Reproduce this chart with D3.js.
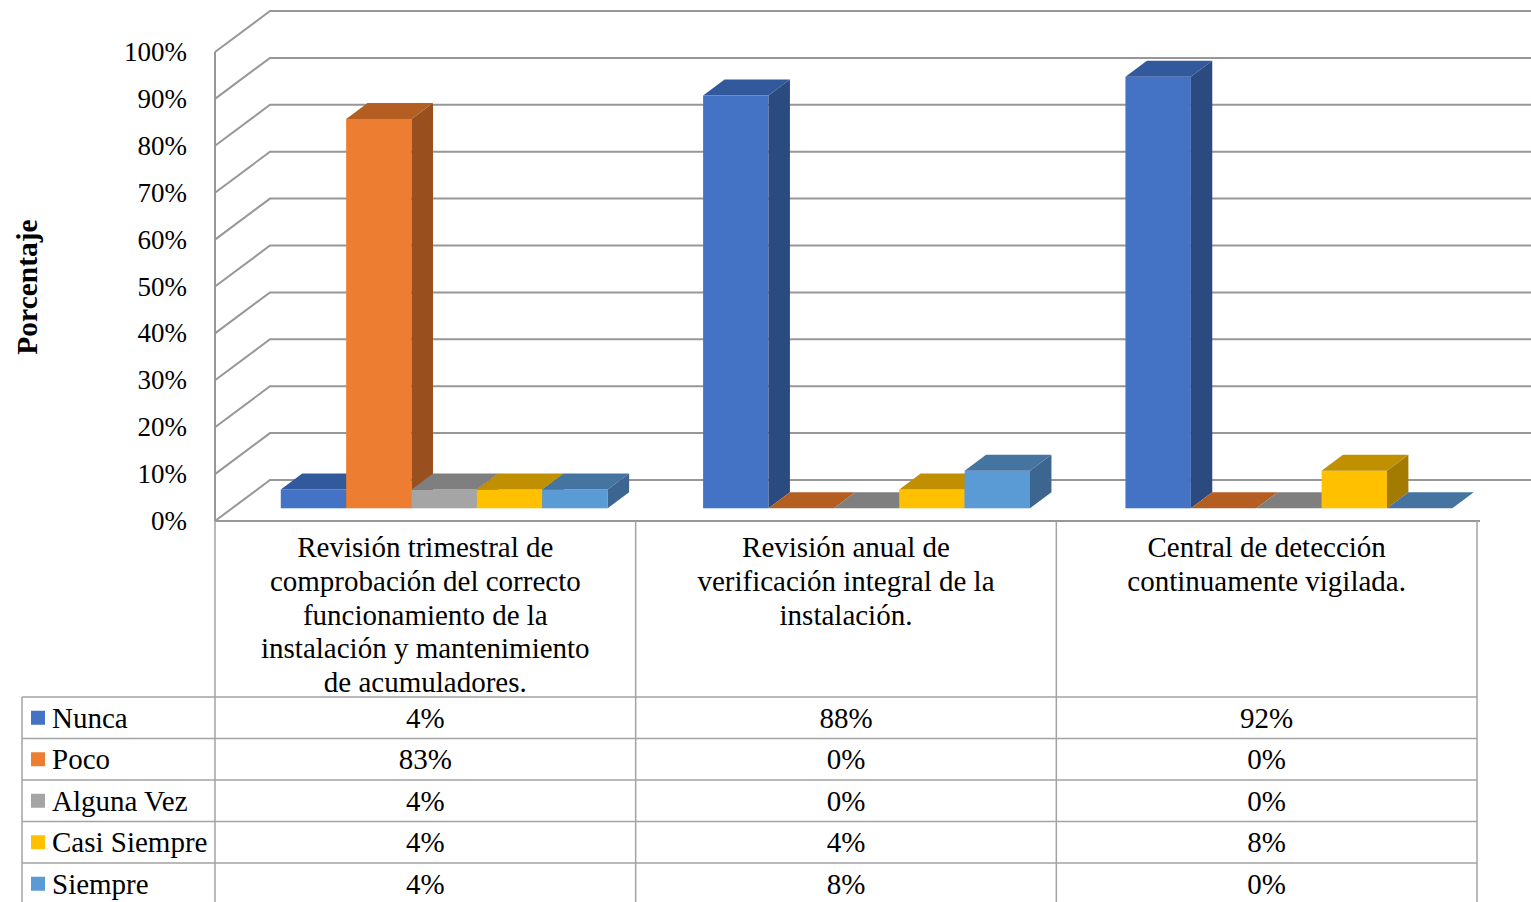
<!DOCTYPE html>
<html>
<head>
<meta charset="utf-8">
<script src="https://cdn.jsdelivr.net/npm/d3@7/dist/d3.min.js"></script>
<style>
  html, body { margin: 0; padding: 0; background: #fff; }
  svg { display: block; }
  text { font-family: "Liberation Serif", "Times New Roman", serif; fill: #000; }
</style>
</head>
<body>
<svg id="chart" width="1531" height="902"></svg>
<script>
// Categories (column headers of the data table)
const categories = [
  "Revisión trimestral de comprobación del correcto funcionamiento de la instalación y mantenimiento de acumuladores.",
  "Revisión anual de verificación integral de la instalación.",
  "Central de detección continuamente vigilada."
];
// Wrapped header lines for each category cell
const categoryLines = [
  ["Revisión trimestral de", "comprobación del correcto", "funcionamiento de la", "instalación y mantenimiento", "de acumuladores."],
  ["Revisión anual de", "verificación integral de la", "instalación."],
  ["Central de detección", "continuamente vigilada."]
];
const series = ["Nunca", "Poco", "Alguna Vez", "Casi Siempre", "Siempre"];
// Percentages per series, one value per category
const nunca = [0.04, 0.88, 0.92];
const poco = [0.83, 0.00, 0.00];
const algunaVez = [0.04, 0.00, 0.00];
const casiSiempre = [0.04, 0.04, 0.08];
const siempre = [0.04, 0.08, 0.00];
const yTicks = [0, 0.1, 0.2, 0.3, 0.4, 0.5, 0.6, 0.7, 0.8, 0.9, 1.0];

const values = [nunca, poco, algunaVez, casiSiempre, siempre];
// Face colours: front, top, side
const faceColors = [
  { front: "#4472C4", top: "#32599B", side: "#2B4A80" },
  { front: "#ED7D31", top: "#B55E22", side: "#9A4F1E" },
  { front: "#A5A5A5", top: "#7F7F7F", side: "#6E6E6E" },
  { front: "#FFC000", top: "#C19000", side: "#A37B00" },
  { front: "#5B9BD5", top: "#44749F", side: "#3C6690" }
];

const svg = d3.select("#chart");

// Plot geometry: oblique projection, depth vector (dx, dy)
const frontLeft = 215, frontRight = 1477;
const floorY = 521, topY = 52;
const depthX = 55, depthY = -41;
const barNear = 0.31, barFar = 0.70;

const yFront = d3.scaleLinear().domain([0, 1]).range([floorY, topY]);
const yLen = v => floorY - yFront(v);

// Category bands for the table and for the bars
const xTable = d3.scaleBand().domain(categories).range([frontLeft, frontRight]);
const xPlot = d3.scaleBand().domain(categories).range([216, 1483]);
const xSeries = d3.scaleBand().domain(series).range([0, xPlot.bandwidth()])
  .paddingInner(0).paddingOuter(0.73);

const gridColor = "#979797";
const grid = svg.append("g");

// Back wall gridlines and left wall diagonals
yTicks.forEach(t => {
  const yf = yFront(t);
  const yb = yf + depthY;
  grid.append("path")
    .attr("d", `M${frontLeft},${yf}L${frontLeft + depthX},${yb}L1535,${yb}`)
    .attr("fill", "none").attr("stroke", gridColor).attr("stroke-width", 2);
});
grid.append("line")
  .attr("x1", frontLeft).attr("x2", frontLeft)
  .attr("y1", yFront(1)).attr("y2", floorY)
  .attr("stroke", gridColor).attr("stroke-width", 2);

// Y axis tick labels
svg.append("g").selectAll("text").data(yTicks).join("text")
  .attr("x", 187).attr("y", d => yFront(d))
  .attr("text-anchor", "end").attr("dominant-baseline", "central")
  .style("font-size", "27px")
  .text(d => d3.format(".0%")(d));

// Axis title
svg.append("text")
  .attr("transform", "translate(27,287) rotate(-90)")
  .attr("text-anchor", "middle").attr("dominant-baseline", "central")
  .style("font-size", "29.5px").style("font-weight", "bold")
  .text("Porcentaje");

// 3D bars, drawn left to right so neighbours overlap correctly
const bars = svg.append("g");
const nx = depthX * barNear, ny = depthY * barNear;
const fx = depthX * (barFar - barNear), fy = depthY * (barFar - barNear);
categories.forEach((c, ci) => {
  series.forEach((s, si) => {
    const v = values[si][ci];
    const col = faceColors[si];
    const x0 = xPlot(c) + xSeries(s) + nx;
    const w = xSeries.bandwidth();
    const yb = floorY + ny;
    const h = yLen(v);
    const yt = yb - h;
    const g = bars.append("g");
    if (h > 0) {
      g.append("rect").attr("x", x0).attr("y", yt).attr("width", w).attr("height", h)
        .attr("fill", col.front);
      g.append("path")
        .attr("d", `M${x0 + w},${yb}L${x0 + w + fx},${yb + fy}L${x0 + w + fx},${yt + fy}L${x0 + w},${yt}Z`)
        .attr("fill", col.side);
    }
    g.append("path")
      .attr("d", `M${x0},${yt}L${x0 + w},${yt}L${x0 + w + fx},${yt + fy}L${x0 + fx},${yt + fy}Z`)
      .attr("fill", col.top);
  });
});

// Data table
const tableColor = "#a3a3a3";
const tbl = svg.append("g");
const headerBottom = 697;
const rowH = 41.5;
const legendLeft = 22;
const rowY = d3.range(series.length + 1).map(i => headerBottom + i * rowH);
const tableFont = "29px";

// Header cells
categories.forEach((c, ci) => {
  const cx = xTable(c) + xTable.bandwidth() / 2;
  categoryLines[ci].forEach((line, li) => {
    tbl.append("text")
      .attr("x", cx).attr("y", 547 + li * 33.8)
      .attr("text-anchor", "middle").attr("dominant-baseline", "central")
      .style("font-size", tableFont)
      .text(line);
  });
});

// Value rows with legend keys
series.forEach((s, si) => {
  const cy = rowY[si] + rowH / 2;
  tbl.append("rect").attr("x", 31).attr("y", cy - 7).attr("width", 14).attr("height", 14)
    .attr("fill", faceColors[si].front);
  tbl.append("text").attr("x", 52).attr("y", cy)
    .attr("dominant-baseline", "central").style("font-size", tableFont).text(s);
  categories.forEach((c, ci) => {
    tbl.append("text")
      .attr("x", xTable(c) + xTable.bandwidth() / 2).attr("y", cy)
      .attr("text-anchor", "middle").attr("dominant-baseline", "central")
      .style("font-size", tableFont)
      .text(d3.format(".0%")(values[si][ci]));
  });
});

// Table rules
tbl.append("line").attr("x1", frontLeft).attr("x2", frontRight + 3)
  .attr("y1", floorY).attr("y2", floorY).attr("stroke", gridColor).attr("stroke-width", 2);
rowY.forEach(y => {
  tbl.append("line").attr("x1", legendLeft).attr("x2", frontRight)
    .attr("y1", y).attr("y2", y).attr("stroke", tableColor).attr("stroke-width", 1.5);
});
const colX = categories.map(c => xTable(c)).concat([frontRight]);
colX.forEach(x => {
  tbl.append("line").attr("x1", x).attr("x2", x)
    .attr("y1", floorY).attr("y2", 910).attr("stroke", tableColor).attr("stroke-width", 1.5);
});
tbl.append("line").attr("x1", legendLeft).attr("x2", legendLeft)
  .attr("y1", headerBottom).attr("y2", 910).attr("stroke", tableColor).attr("stroke-width", 1.5);
</script>
</body>
</html>
